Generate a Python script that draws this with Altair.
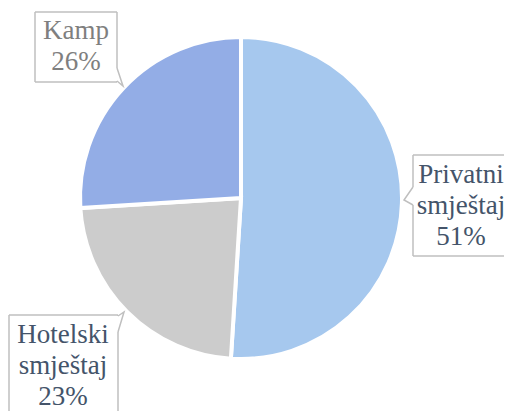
import altair as alt
import pandas as pd

# ---- data ----
categories = ["Privatni smještaj", "Hotelski smještaj", "Kamp"]
shares = [51, 23, 26]
label_lines = [["Privatni", "smještaj"], ["Hotelski", "smještaj"], ["Kamp"]]
colors = ["#a6c8ee", "#cccccc", "#93ade6"]
text_colors = ["#44546a", "#44546a", "#7f7f7f"]

# ---- layout (page pixel coordinates) ----
CX, CY, R = 241, 198, 161
label_pos = {  # centre of the first text line
    "Privatni smještaj": (461, 175),
    "Hotelski smještaj": (63, 335),
    "Kamp": (76, 31),
}
box_fill = {
    "Privatni smještaj": (413, 155, 504, 256),
    "Hotelski smještaj": (9, 315, 118, 411),
    "Kamp": (35, 12, 117, 82),
}
pointers = {  # base1, apex, base2
    "Privatni smještaj": [(413, 187), (404, 200), (413, 205)],
    "Hotelski smještaj": [(118, 332), (124, 312), (118, 316)],
    "Kamp": [(117, 68), (123, 86), (117, 81)],
}
FONT = "Liberation Serif"

W, H = 496, 403
xs = alt.Scale(domain=[8, 8 + W], range=[0, W])
ys = alt.Scale(domain=[8, 8 + H], range=[0, H])

pie_df = pd.DataFrame({"cat": categories, "share": shares, "order": list(range(len(categories)))})
lab_df = pd.DataFrame({
    "cat": categories,
    "text": ["\n".join(lines + [f"{s}%"]) for lines, s in zip(label_lines, shares)],
    "tx": [label_pos[c][0] for c in categories],
    "ty": [label_pos[c][1] for c in categories],
    "color": text_colors,
})
box_df = pd.DataFrame({
    "cat": categories,
    "x": [box_fill[c][0] for c in categories],
    "y": [box_fill[c][1] for c in categories],
    "x2": [box_fill[c][2] for c in categories],
    "y2": [box_fill[c][3] for c in categories],
})
seg_rows = []
for c in categories:
    x1, y1, x2, y2 = box_fill[c]
    (bx1, by1), _, (bx2, by2) = pointers[c]
    lo, hi = min(by1, by2), max(by1, by2)
    sides = [(x1, y1, x2, y1)]  # top
    if c != "Hotelski smještaj":
        sides.append((x1, y2, x2, y2))  # bottom
    if c == "Privatni smještaj":
        sides += [(x1, y1, x1, lo), (x1, hi, x1, y2)]
    else:
        sides.append((x1, y1, x1, y2))
        sides += [(x2, y1, x2, lo), (x2, hi, x2, y2)]
    for s in sides:
        seg_rows.append({"cat": c, "x": s[0], "y": s[1], "x2": s[2], "y2": s[3]})
seg_df = pd.DataFrame(seg_rows)

ptr_rows = []
for c in categories:
    for i, (px, py) in enumerate(pointers[c]):
        ptr_rows.append({"cat": c, "i": i, "px": px, "py": py})
ptr_df = pd.DataFrame(ptr_rows)

color_scale = alt.Scale(domain=categories, range=colors)

pie = alt.Chart(pie_df).mark_arc(
    outerRadius=R, stroke="white", strokeWidth=4
).encode(
    theta=alt.Theta("share:Q", stack=True),
    order=alt.Order("order:Q"),
    color=alt.Color("cat:N", scale=color_scale, legend=None),
    x=alt.value(CX - 8),
    y=alt.value(CY - 8),
)

box = alt.Chart(box_df).mark_rect(fill="white").encode(
    x=alt.X("x:Q", scale=xs, axis=None),
    x2="x2:Q",
    y=alt.Y("y:Q", scale=ys, axis=None),
    y2="y2:Q",
)

edges = alt.Chart(seg_df).mark_rule(color="#bfbfbf", strokeWidth=1.5).encode(
    x=alt.X("x:Q", scale=xs, axis=None),
    x2="x2:Q",
    y=alt.Y("y:Q", scale=ys, axis=None),
    y2="y2:Q",
)

ptr = alt.Chart(ptr_df).mark_line(color="#bfbfbf", strokeWidth=1.5).encode(
    x=alt.X("px:Q", scale=xs, axis=None),
    y=alt.Y("py:Q", scale=ys, axis=None),
    detail="cat:N",
    order="i:Q",
)

text = alt.Chart(lab_df).mark_text(
    font=FONT, fontSize=27, lineHeight=31,
    align="center", baseline="middle", lineBreak="\n",
).encode(
    x=alt.X("tx:Q", scale=xs, axis=None),
    y=alt.Y("ty:Q", scale=ys, axis=None),
    text="text:N",
    color=alt.Color("color:N", scale=None, legend=None),
)

chart = alt.layer(pie, box, edges, ptr, text).properties(
    width=W, height=H, padding=0, autosize=alt.AutoSizeParams(type="none"),
    background="white",
).configure_view(stroke=None)

chart.save("out.html", embed_options={"renderer": "svg", "actions": False})
